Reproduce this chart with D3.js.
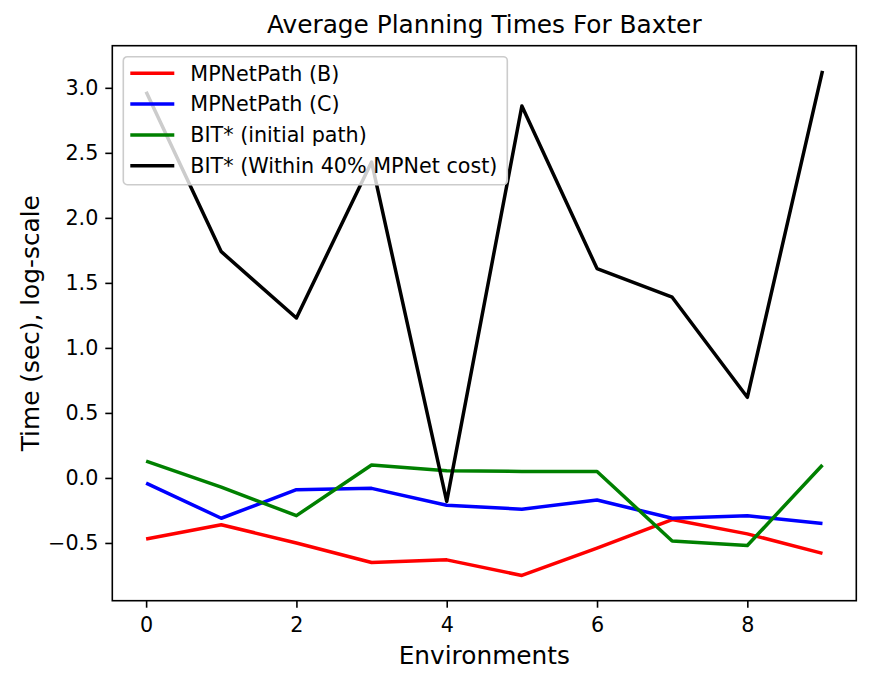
<!DOCTYPE html>
<html>
<head>
<meta charset="utf-8">
<script src="https://cdn.jsdelivr.net/npm/d3@7"></script>
<style>
  body { margin: 0; background: white; }
  svg { font-family: "DejaVu Sans", sans-serif; }
</style>
</head>
<body>
<div id="chart"></div>
<script>
// environments 0..9
var envs = [0, 1, 2, 3, 4, 5, 6, 7, 8, 9];

var mpnetB = [-0.47, -0.36, -0.50, -0.65, -0.63, -0.75, -0.54, -0.32, -0.43, -0.58];
var mpnetC = [-0.04, -0.31, -0.09, -0.08, -0.21, -0.24, -0.17, -0.31, -0.29, -0.35];
var bitInit = [0.13, -0.07, -0.29, 0.10, 0.055, 0.05, 0.05, -0.485, -0.52, 0.10];
var bitWithin = [2.97, 1.74, 1.23, 2.43, -0.18, 2.86, 1.61, 1.39, 0.62, 3.13];

var seriesNames = ["MPNetPath (B)", "MPNetPath (C)", "BIT* (initial path)", "BIT* (Within 40% MPNet cost)"];
var seriesColors = ["#ff0000", "#0000ff", "#008000", "#000000"];
var allSeries = [mpnetB, mpnetC, bitInit, bitWithin];

var xTicks = [0, 2, 4, 6, 8];
var yTicks = [-0.5, 0.0, 0.5, 1.0, 1.5, 2.0, 2.5, 3.0];

var W = 880, H = 684;
var margin = {left: 112.3, right: 880 - 856.3, top: 45.7, bottom: 684 - 600.7};
var width = W - margin.left - margin.right;
var height = H - margin.top - margin.bottom;

var svg = d3.select("#chart")
  .append("svg")
  .attr("width", W)
  .attr("height", H)
  .style("background", "white");

var g = svg.append("g")
  .attr("transform", "translate(" + margin.left + "," + margin.top + ")");

// matplotlib style 5% padding
var allVals = d3.merge(allSeries);
var ymin = d3.min(allVals), ymax = d3.max(allVals);
var ypad = (ymax - ymin) * 0.05;

var xscale = d3.scaleLinear()
  .domain([-0.45, 9.45])
  .range([0, width]);

var yscale = d3.scaleLinear()
  .domain([ymin - ypad, ymax + ypad])
  .range([height, 0]);

var xAxis = g.append("g")
  .attr("transform", "translate(0," + height + ")")
  .call(d3.axisBottom(xscale).tickValues(xTicks).tickFormat(d3.format("d")).tickSize(7).tickPadding(7));

var yAxis = g.append("g")
  .call(d3.axisLeft(yscale).tickValues(yTicks).tickFormat(function (d) { return d3.format(".1f")(d).replace("-", "\u2212"); }).tickSize(7).tickPadding(7));

[xAxis, yAxis].forEach(function (ax) {
  ax.select(".domain").remove();
  ax.selectAll(".tick line").attr("stroke", "black").attr("stroke-width", 1.6);
  ax.selectAll(".tick text")
    .attr("fill", "black")
    .style("font-size", "20.7px")
    .style("font-family", "DejaVu Sans");
});
xAxis.selectAll(".tick text").attr("dy", "0.82em");

// lines
var line = d3.line()
  .x(function (d, i) { return xscale(envs[i]); })
  .y(function (d) { return yscale(d); });

allSeries.forEach(function (s, i) {
  g.append("path")
    .datum(s)
    .attr("fill", "none")
    .attr("stroke", seriesColors[i])
    .attr("stroke-width", 3.5)
    .attr("stroke-linejoin", "round")
    .attr("d", line);
});

// frame
g.append("rect")
  .attr("width", width)
  .attr("height", height)
  .attr("fill", "none")
  .attr("stroke", "black")
  .attr("stroke-width", 1.6);

// legend
var legend = g.append("g")
  .attr("transform", "translate(" + (123.3 - margin.left) + "," + (56.7 - margin.top) + ")");

legend.append("rect")
  .attr("width", 384)
  .attr("height", 128)
  .attr("rx", 4)
  .attr("fill", "white")
  .attr("fill-opacity", 0.8)
  .attr("stroke", "#cccccc")
  .attr("stroke-width", 1.6);

seriesNames.forEach(function (name, i) {
  var yy = 16.6 + i * 30.8;
  legend.append("line")
    .attr("x1", 7).attr("x2", 51)
    .attr("y1", yy).attr("y2", yy)
    .attr("stroke", seriesColors[i])
    .attr("stroke-width", 3.5);
  legend.append("text")
    .attr("x", 67)
    .attr("y", yy)
    .attr("dy", "0.35em")
    .style("font-size", "20.7px")
    .text(name);
});

// title and labels
svg.append("text")
  .attr("x", margin.left + width / 2)
  .attr("y", 33)
  .attr("text-anchor", "middle")
  .style("font-size", "24.8px")
  .text("Average Planning Times For Baxter");

svg.append("text")
  .attr("x", margin.left + width / 2)
  .attr("y", 664)
  .attr("text-anchor", "middle")
  .style("font-size", "24.8px")
  .text("Environments");

svg.append("text")
  .attr("transform", "translate(39," + (margin.top + height / 2) + ") rotate(-90)")
  .attr("text-anchor", "middle")
  .style("font-size", "24.8px")
  .text("Time (sec), log-scale");
</script>
</body>
</html>
